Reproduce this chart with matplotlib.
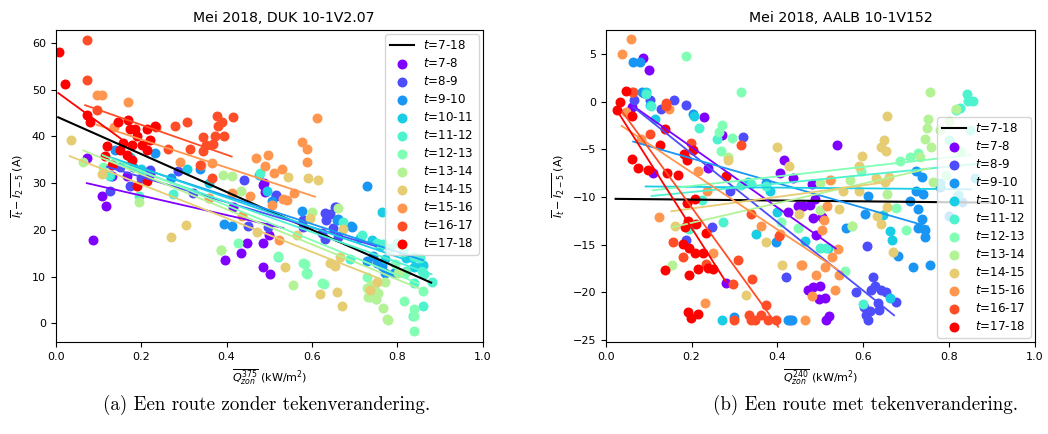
import numpy as np
import matplotlib
matplotlib.use("Agg")
import matplotlib.pyplot as plt

# ---------------- data ----------------
hours = ["7-8", "8-9", "9-10", "10-11", "11-12", "12-13", "13-14", "14-15", "15-16", "16-17", "17-18"]
title_left = "Mei 2018, DUK 10-1V2.07"
title_right = "Mei 2018, AALB 10-1V152"
caption_left = "(a) Een route zonder tekenverandering."
caption_right = "(b) Een route met tekenverandering."

# LEFT chart points (x: Q_zon^375, y: I_t - I_2-5)
left_x_7_8 = [.073, .108, .118, .088, .131, .168, .221, .416, .448, .433, .397, .486, .500, .502, .486, .486, .515, .490, .488]
left_y_7_8 = [35.4, 27.3, 25.2, 17.8, 31.5, 31.5, 32.0, 25.0, 17.1, 15.1, 13.5, 17.1, 18.9, 10.5, 12.1, 29.6, 27.3, 28.2, 30.0]
left_x_8_9 = [.127, .174, .221, .287, .440, .322, .451, .498, .517, .580, .631, .656, .580, .623, .630, .655, .642, .633, .650, .662, .150, .200]
left_y_8_9 = [28.4, 29.5, 32.8, 32.5, 30.6, 27.9, 20.8, 20.6, 27.4, 20.6, 23.7, 25.0, 22.2, 19.3, 18.1, 24.8, 23.5, 22.1, 20.3, 18.4, 33.5, 31.0]
left_x_9_10 = [.140, .233, .339, .394, .412, .506, .576, .658, .693, .730, .662, .692, .728, .743, .753, .763, .771, .791, .180, .270]
left_y_9_10 = [37.2, 36.4, 33.1, 21.3, 20.9, 26.2, 24.0, 22.2, 20.6, 29.3, 22.3, 20.9, 13.3, 14.4, 13.0, 12.3, 10.8, 10.8, 33.5, 31.0]
left_x_10_11 = [.128, .174, .307, .477, .494, .763, .712, .740, .760, .771, .200, .360, .820, .840, .860]
left_y_10_11 = [31.5, 35.5, 33.0, 31.8, 28.4, 23.9, 18.2, 17.8, 16.5, 13.7, 33.0, 30.0, 14.0, 12.0, 12.5]
left_x_11_12 = [.124, .196, .275, .478, .521, .588, .672, .689, .717, .752, .767, .783, .798, .814, .838, .853, .862, .880, .857, .821, .840, .859, .836]
left_y_11_12 = [31.8, 27.2, 27.6, 32.1, 14.3, 10.7, 21.7, 13.7, 18.9, 17.1, 17.0, 16.1, 17.1, 15.3, 14.3, 13.9, 10.6, 8.9, 11.1, 11.1, 8.7, 3.7, 1.6]
left_x_12_13 = [.110, .428, .387, .584, .589, .629, .521, .580, .586, .623, .728, .736, .751, .816, .838, .840, .838, .861, .818, .794]
left_y_12_13 = [33.5, 17.1, 15.7, 12.8, 10.5, 8.5, 14.4, 13.0, 10.7, 8.7, 10.0, 5.7, 5.2, 4.8, 3.1, -1.6, 1.6, 7.0, 10.7, 12.7]
left_x_13_14 = [.065, .194, .391, .412, .435, .387, .600, .662, .556, .730, .732, .751, .767, .775, .802, .779, .755, .739, .771, .745]
left_y_13_14 = [34.6, 25.9, 31.8, 31.5, 28.4, 15.7, 23.9, 24.6, 8.3, 7.5, 5.7, 5.3, 3.2, 0.9, 10.8, 0.8, 6.4, 8.2, 8.9, 7.6]
left_x_14_15 = [.035, .108, .305, .269, .545, .590, .613, .619, .658, .670, .537, .642, .654, .596, .672, .471, .666, .564, .752, .736]
left_y_14_15 = [39.3, 31.9, 21.1, 18.4, 31.3, 31.2, 30.6, 6.3, 6.8, 3.7, 12.0, 12.9, 12.2, 22.5, 20.1, 19.6, 14.1, 18.9, 8.9, 7.1]
left_x_15_16 = [.096, .108, .170, .136, .291, .367, .340, .414, .455, .469, .489, .498, .511, .529, .541, .557, .576, .588, .588, .611, .522, .358, .436, .533, .506]
left_y_15_16 = [48.9, 48.9, 47.3, 42.1, 34.6, 34.4, 33.9, 28.0, 27.3, 35.3, 33.6, 36.0, 32.1, 33.0, 26.5, 27.8, 38.9, 37.4, 34.6, 44.0, 17.9, 26.8, 22.9, 26.6, 25.3]
left_x_16_17 = [.074, .073, .096, .279, .308, .377, .389, .381, .416, .344, .373, .393, .369, .353, .346, .264, .314, .338, .367, .235]
left_y_16_17 = [60.7, 52.1, 45.6, 42.3, 43.2, 44.4, 43.0, 42.2, 44.1, 39.9, 40.1, 40.0, 38.4, 38.2, 36.8, 37.3, 37.3, 33.8, 31.1, 42.1]
left_x_17_18 = [.008, .023, .073, .080, .147, .169, .174, .186, .213, .233, .190, .221, .178, .201, .158, .121, .151, .213, .166, .116, .178, .131, .191, .213]
left_y_17_18 = [58.0, 51.3, 44.6, 43.2, 43.2, 43.6, 41.6, 41.5, 41.5, 42.2, 40.0, 39.3, 38.2, 38.2, 38.5, 38.0, 37.1, 37.1, 36.1, 35.9, 35.0, 33.9, 29.3, 30.4]

# LEFT fitted lines per hour: start/end x and y
left_fit_x0 = [.073, .120, .140, .130, .120, .110, .065, .033, .096, .069, .006]
left_fit_x1 = [.533, .750, .860, .870, .880, .850, .850, .760, .607, .412, .162]
left_fit_y0 = [30.0, 33.5, 35.0, 35.5, 35.0, 36.0, 37.0, 35.8, 42.5, 46.7, 49.3]
left_fit_y1 = [20.4, 16.5, 13.5, 12.0, 10.5, 8.5, 7.5, 9.5, 27.1, 35.7, 38.9]
left_all_x = [.006, .879]
left_all_y = [44.1, 8.7]

# RIGHT chart points (x: Q_zon^240)
right_x_7_8 = [.087, .101, .062, .110, .229, .238, .272, .281, .405, .415, .437, .481, .448, .459, .487, .425, .483, .489, .483, .472, .496, .513, .521, .538, .477, .504, .500, .512]
right_y_7_8 = [4.6, 3.3, -0.6, -7.5, -1.6, -7.0, -3.5, -19.0, -7.5, -6.1, -8.0, -8.6, -10.9, -10.9, -10.2, -11.6, -12.2, -14.0, -19.4, -19.8, -20.7, -22.9, -22.5, -4.6, -10.8, -12.1, -19.3, -20.6]
right_x_8_9 = [.067, .088, .102, .129, .158, .186, .289, .320, .421, .186, .248, .429, .608, .583, .623, .627, .618, .642, .654, .676, .603, .615, .638, .607, .611, .634]
right_y_8_9 = [0.2, 0.9, 0.2, -0.8, 0.2, -0.4, -9.4, -3.7, -18.4, -14.5, -13.1, -22.9, -15.1, -20.0, -18.4, -19.3, -19.8, -19.8, -20.0, -21.0, -21.5, -22.0, -21.8, -22.4, -22.9, -21.1]
right_x_9_10 = [.064, .079, .085, .203, .374, .396, .425, .435, .709, .724, .736, .724, .740, .728, .736, .728, .743, .743, .716, .755, .611, .604, .559, .681, .800, .830, .780, .300]
right_y_9_10 = [4.1, 4.1, 1.0, -1.3, -8.5, -14.7, -22.9, -22.9, -10.4, -7.3, -7.9, -9.4, -9.7, -11.3, -12.3, -13.3, -13.5, -14.2, -17.3, -17.1, -9.9, -11.8, -13.3, -16.2, -12.0, -10.5, -9.0, -22.6]
right_x_10_11 = [.094, .103, .115, .206, .351, .272, .398, .332, .382, .646, .663, .668, .662, .518, .464, .780, .820, .860]
right_y_10_11 = [1.0, -0.4, -1.8, -1.5, -13.9, -22.9, -11.6, -8.4, -9.4, -11.9, -13.6, -14.5, -20.6, -15.4, -14.6, -8.5, -9.8, -8.0]
right_x_11_12 = [.093, .106, .218, .260, .274, .195, .224, .315, .339, .374, .500, .514, .600, .841, .856, .845, .817, .825, .800, .850]
right_y_11_12 = [0.8, -0.5, -2.8, -3.9, -12.6, -13.4, -10.3, -8.7, -8.6, -8.9, -15.3, -15.3, -21.2, 0.8, 0.1, 0.1, -0.9, -0.7, -4.0, -3.0]
right_x_12_13 = [.187, .316, .265, .295, .268, .448, .409, .676, .700, .685, .709, .728, .596, .573, .557, .794, .825, .270]
right_y_12_13 = [4.8, 1.0, -3.2, -3.8, -5.2, -13.3, -12.6, -11.2, -13.5, -6.2, -5.8, -5.4, -7.3, -13.0, -17.8, -7.7, -5.2, -2.5]
right_x_13_14 = [.285, .155, .755, .751, .749, .745, .732, .759, .569, .499, .500, .655, .574, .526, .817, .762, .780, .800]
right_y_13_14 = [-5.8, -17.1, 1.0, -1.8, -2.8, -3.9, -5.8, -4.8, -8.2, -8.5, -11.4, -9.7, -13.0, -8.2, -0.8, -8.4, -3.0, -2.0]
right_x_14_15 = [.398, .427, .285, .451, .373, .411, .328, .161, .655, .649, .642, .653, .598, .590, .630, .651, .660, .553, .590, .633, .642, .544, .669, .655]
right_y_14_15 = [-4.8, -6.8, -6.1, -11.8, -14.7, -17.1, -20.3, -13.0, -1.5, -4.0, -4.8, -5.2, -5.7, -6.8, -8.0, -8.4, -7.9, -9.4, -9.4, -12.0, -12.8, -11.3, -15.8, -11.1]
right_x_15_16 = [.060, .039, .062, .048, .147, .083, .214, .236, .124, .250, .231, .363, .405, .456, .491, .464, .481, .522, .515, .508, .503, .542, .528, .510, .534, .544, .458]
right_y_15_16 = [6.5, 5.0, 1.0, -1.1, -0.75, -3.9, -7.3, -9.4, -12.1, -15.9, -21.1, -13.0, -13.9, -17.1, -18.2, -22.9, -20.4, -8.2, -11.0, -12.4, -13.5, -15.5, -16.3, -17.3, -19.8, -18.2, -17.1]
right_x_16_17 = [.064, .104, .141, .198, .315, .339, .404, .308, .340, .297, .374, .334, .347, .363, .339, .300, .396, .378, .180, .157, .234, .140]
right_y_16_17 = [1.0, -3.4, -0.2, -4.3, -4.6, -11.8, -14.1, -16.6, -18.6, -19.1, -21.3, -22.4, -22.9, -22.4, -22.9, -22.9, -22.9, -22.9, -16.3, -14.7, -17.0, -0.5]
right_x_17_18 = [.027, .033, .048, .062, .062, .076, .098, .126, .142, .139, .168, .182, .190, .203, .209, .190, .192, .211, .185, .180, .195, .209, .227, .233, .215, .194, .238, .250, .137, .192, .199, .215, .281]
right_y_17_18 = [-0.9, -0.1, 1.1, -1.5, -6.0, -7.0, -7.2, -4.6, -7.5, -2.9, -7.7, -5.5, -6.1, -5.1, -10.2, -10.6, -12.5, -12.8, -13.2, -14.9, -15.4, -15.9, -15.9, -13.8, -17.5, -18.2, -17.4, -17.5, -17.7, -22.1, -22.7, -22.3, -7.8]

right_fit_x0 = [.068, .065, .064, .093, .107, .110, .153, .153, .037, .039, .026]
right_fit_x1 = [.536, .672, .751, .852, .872, .850, .755, .646, .540, .402, .280]
right_fit_y0 = [-0.6, -0.6, -4.2, -8.9, -9.9, -9.3, -13.2, -11.5, -2.55, -1.1, -0.93]
right_fit_y1 = [-15.4, -22.4, -13.1, -9.2, -6.5, -5.6, -7.0, -8.5, -17.6, -23.6, -18.9]
right_all_x = [.023, .900]
right_all_y = [-10.2, -10.6]

left_xs = [left_x_7_8, left_x_8_9, left_x_9_10, left_x_10_11, left_x_11_12, left_x_12_13,
           left_x_13_14, left_x_14_15, left_x_15_16, left_x_16_17, left_x_17_18]
left_ys = [left_y_7_8, left_y_8_9, left_y_9_10, left_y_10_11, left_y_11_12, left_y_12_13,
           left_y_13_14, left_y_14_15, left_y_15_16, left_y_16_17, left_y_17_18]
right_xs = [right_x_7_8, right_x_8_9, right_x_9_10, right_x_10_11, right_x_11_12, right_x_12_13,
            right_x_13_14, right_x_14_15, right_x_15_16, right_x_16_17, right_x_17_18]
right_ys = [right_y_7_8, right_y_8_9, right_y_9_10, right_y_10_11, right_y_11_12, right_y_12_13,
            right_y_13_14, right_y_14_15, right_y_15_16, right_y_16_17, right_y_17_18]

# ---------------- plot ----------------
fig = plt.figure(figsize=(10.48, 4.34), dpi=100)
axL = fig.add_axes([0.0531, 0.212, 0.4076, 0.719])
axR = fig.add_axes([0.578, 0.212, 0.4094, 0.719])
colors = plt.cm.rainbow(np.linspace(0, 1, len(hours)))


def draw(ax, xs, ys, fx0, fx1, fy0, fy1, allx, ally, title, title_x, xlabel, legloc):
    ax.plot(allx, ally, color="black", lw=1.5, zorder=3, label=r"$t$=7-18")
    for i, h in enumerate(hours):
        ax.scatter(xs[i], ys[i], s=38, color=colors[i], zorder=2, label=r"$t$=" + h)
        ax.plot([fx0[i], fx1[i]], [fy0[i], fy1[i]], color=colors[i], lw=1.3, zorder=3)
    ax.set_title(title, fontsize=10.2, x=title_x)
    ax.set_xlabel(xlabel, fontsize=8)
    ax.set_ylabel(r"$\overline{I_t} - \overline{I_{2-5}}$ (A)", fontsize=8)
    ax.set_xlim(0, 1)
    ax.set_xticks(np.arange(0, 1.01, 0.2))
    ax.tick_params(labelsize=8)
    ax.legend(loc=legloc, fontsize=8.6, labelspacing=0.42, borderaxespad=0.35)


draw(axL, left_xs, left_ys, left_fit_x0, left_fit_x1, left_fit_y0, left_fit_y1,
     left_all_x, left_all_y, title_left, 0.535, r"$\overline{Q_{zon}^{375}}$ (kW/m$^2$)", "upper right")
axL.set_ylim(-4.0, 62.8)
axL.set_yticks(np.arange(0, 61, 10))

draw(axR, right_xs, right_ys, right_fit_x0, right_fit_x1, right_fit_y0, right_fit_y1,
     right_all_x, right_all_y, title_right, 0.548, r"$\overline{Q_{zon}^{240}}$ (kW/m$^2$)", "lower right")
axR.set_ylim(-25.2, 7.5)
axR.set_yticks(np.arange(-25, 6, 5))

fig.text(267 / 1048, 1 - 405 / 434, caption_left, family="cmr10", fontsize=13.7, ha="center", va="center")
fig.text(866 / 1048, 1 - 405 / 434, caption_right, family="cmr10", fontsize=13.7, ha="center", va="center")

fig.savefig("out.png", dpi=100)
